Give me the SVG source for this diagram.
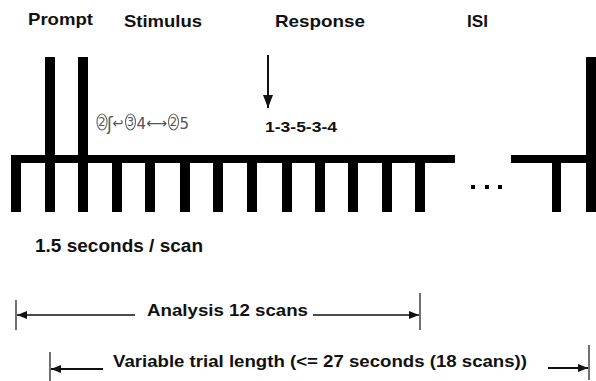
<svg xmlns="http://www.w3.org/2000/svg" width="596" height="381" viewBox="0 0 596 381">
<defs>
<style>
.lbl{font-family:"Liberation Sans",Arial,sans-serif;font-weight:bold;fill:#111;}
.bar{fill:#000;}
.stim{font-family:"DejaVu Sans","Noto Sans",sans-serif;fill:#555;}
.circ{fill:none;stroke:#666;stroke-width:1.1;}
.ln{stroke:#111;fill:none;}
</style>
<marker id="ah" viewBox="0 0 10 8" refX="10" refY="4" markerWidth="10" markerHeight="8" markerUnits="userSpaceOnUse" orient="auto">
<path d="M0,0 L10,4 L0,8 Z" fill="#111"/>
</marker>
<marker id="ahb" viewBox="0 0 13 10" refX="13" refY="5" markerWidth="13" markerHeight="10" markerUnits="userSpaceOnUse" orient="auto">
<path d="M0,0 L13,5 L0,10 Z" fill="#111"/>
</marker>
</defs>
<rect width="596" height="381" fill="#fff"/>

<g id="headers">
<text class="lbl" x="28" y="25" font-size="17" textLength="65" lengthAdjust="spacingAndGlyphs">Prompt</text>
<text class="lbl" x="124" y="27" font-size="17" textLength="78" lengthAdjust="spacingAndGlyphs">Stimulus</text>
<text class="lbl" x="275" y="27" font-size="17" textLength="90" lengthAdjust="spacingAndGlyphs">Response</text>
<text class="lbl" x="467" y="27" font-size="17" textLength="21" lengthAdjust="spacingAndGlyphs">ISI</text>
</g>

<g id="timeline">
<rect class="bar" x="11" y="155" width="444" height="8"/>
<rect class="bar" x="511" y="155" width="85" height="8"/>
<rect class="bar" x="11" y="155" width="10" height="57"/>
<rect class="bar" x="45" y="57" width="10" height="155"/>
<rect class="bar" x="78" y="57" width="10" height="155"/>
<rect class="bar" x="112" y="155" width="10" height="57"/>
<rect class="bar" x="145" y="155" width="10" height="57"/>
<rect class="bar" x="180" y="155" width="10" height="57"/>
<rect class="bar" x="213" y="155" width="10" height="57"/>
<rect class="bar" x="247" y="155" width="10" height="57"/>
<rect class="bar" x="282" y="155" width="10" height="57"/>
<rect class="bar" x="315" y="155" width="10" height="57"/>
<rect class="bar" x="348" y="155" width="10" height="57"/>
<rect class="bar" x="382" y="155" width="10" height="57"/>
<rect class="bar" x="415" y="155" width="10" height="57"/>
<rect class="bar" x="552" y="155" width="9" height="57"/>
<rect class="bar" x="586" y="57" width="10" height="155"/>
<rect class="bar" x="471" y="185" width="4" height="4"/>
<rect class="bar" x="485" y="185" width="4" height="4"/>
<rect class="bar" x="498" y="185" width="4" height="4"/>
</g>

<g id="stimulus">
<ellipse class="circ" cx="102" cy="122" rx="5" ry="8"/>
<text class="stim" x="102" y="126" font-size="11.5" text-anchor="middle">2</text>
<text class="stim" x="107" y="130" font-size="17">ʃ</text>
<text class="stim" x="112.5" y="128" font-size="14" textLength="11" lengthAdjust="spacingAndGlyphs">↩</text>
<ellipse class="circ" cx="130.5" cy="122" rx="5" ry="8"/>
<text class="stim" x="130.5" y="126" font-size="11.5" text-anchor="middle">3</text>
<text class="stim" x="136.5" y="129" font-size="15" fill="#333">4</text>
<text class="stim" x="146" y="128" font-size="14" textLength="21" lengthAdjust="spacingAndGlyphs">⟷</text>
<ellipse class="circ" cx="173.5" cy="122" rx="5" ry="8"/>
<text class="stim" x="173.5" y="126" font-size="11.5" text-anchor="middle">2</text>
<text class="stim" x="179.5" y="129" font-size="15" fill="#333">5</text>
</g>

<g id="response">
<line class="ln" x1="268" y1="55" x2="268" y2="108" stroke-width="2" marker-end="url(#ahb)"/>
<text class="lbl" x="265" y="132" font-size="14.5" textLength="72" lengthAdjust="spacingAndGlyphs">1-3-5-3-4</text>
</g>

<g id="scanlabel">
<text class="lbl" x="35" y="252" font-size="18" textLength="168" lengthAdjust="spacingAndGlyphs">1.5 seconds / scan</text>
</g>

<g id="connectors">
<line class="ln" x1="16" y1="300" x2="16" y2="330" stroke-width="1.2"/>
<line class="ln" x1="135" y1="315" x2="17" y2="315" stroke-width="1.5" marker-end="url(#ah)"/>
<line class="ln" x1="313" y1="315" x2="419" y2="315" stroke-width="1.5" marker-end="url(#ah)"/>
<line class="ln" x1="420" y1="293" x2="420" y2="330" stroke-width="1.2"/>
<line class="ln" x1="50" y1="352" x2="50" y2="381" stroke-width="1.2"/>
<line class="ln" x1="103" y1="369" x2="51" y2="369" stroke-width="2.2" marker-end="url(#ah)"/>
<line class="ln" x1="548" y1="368" x2="588" y2="368" stroke-width="2.2" marker-end="url(#ah)"/>
<line class="ln" x1="589" y1="345" x2="589" y2="380" stroke-width="1.2"/>
</g>

<g id="analysis">
<text class="lbl" x="147" y="316" font-size="16.5" textLength="161" lengthAdjust="spacingAndGlyphs">Analysis 12 scans</text>
</g>
<g id="variable">
<text class="lbl" x="113" y="367" font-size="16.5" textLength="414" lengthAdjust="spacingAndGlyphs">Variable trial length (&lt;= 27 seconds (18 scans))</text>
</g>
</svg>
